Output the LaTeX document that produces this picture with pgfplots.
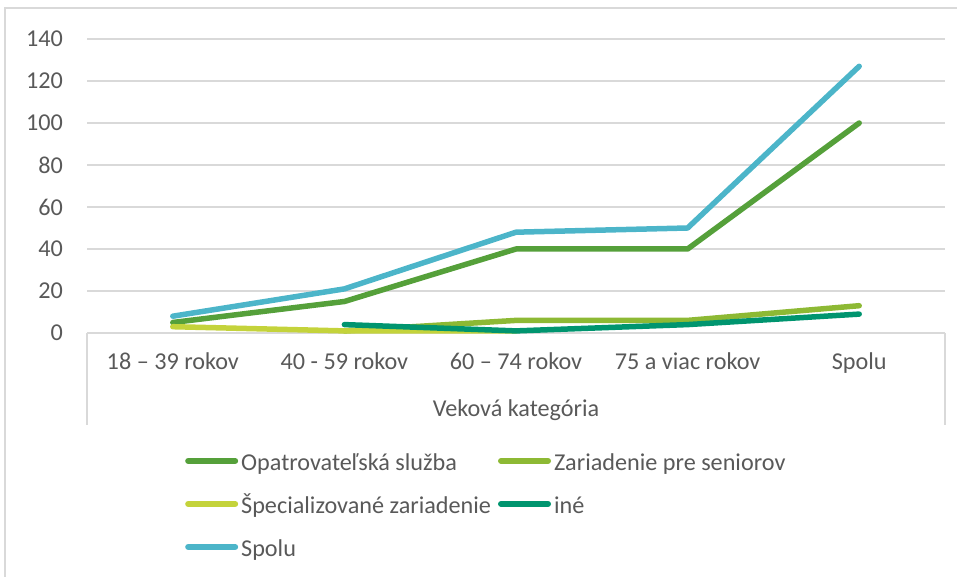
\documentclass[border=0pt]{standalone}
\usepackage{pgfplots}
\pgfplotsset{compat=1.18}
\usepackage{fontspec}
\setmainfont{Carlito}
\definecolor{cOpa}{HTML}{55A03A}
\definecolor{cZar}{HTML}{8DB934}
\definecolor{cSpe}{HTML}{C4D33B}
\definecolor{cIne}{HTML}{00956F}
\definecolor{cSpo}{HTML}{4CB5C9}
\definecolor{cTxt}{HTML}{595959}
\definecolor{cGrid}{HTML}{D9D9D9}
\begin{document}
\begin{tikzpicture}[x=1pt,y=1pt]
\useasboundingbox (0,0) rectangle (957,577);
\draw[cGrid, line width=1.2pt] (5,-5) -- (5,569) -- (962,569);
\draw[cGrid, line width=1.2pt] (87,244) -- (87,152);
\draw[cGrid, line width=1.2pt] (945,244) -- (945,152);
\begin{axis}[
  at={(87pt,244pt)}, anchor=south west,
  scale only axis, width=858pt, height=294pt,
  xmin=-0.5, xmax=4.5, ymin=0, ymax=140,
  xtick={0,1,2,3,4},
  xticklabels={18 – 39 rokov, 40 - 59 rokov, 60 – 74 rokov, 75 a viac rokov, Spolu},
  ytick={0,20,...,140},
  axis line style={draw=none},
  major tick length=0pt,
  ymajorgrids, grid style={cGrid, line width=1.2pt},
  /pgf/number format/assume math mode=true,
  tick label style={font=\fontsize{24.2}{28}\selectfont, text=cTxt, inner sep=0pt},
  yticklabel style={anchor=east, xshift=-24pt},
  xticklabel style={anchor=base, yshift=-37pt},
  xlabel={Veková kategória},
  xlabel style={font=\fontsize{24.2}{28}\selectfont, text=cTxt, inner sep=0pt, at={(axis description cs:0.5,0)}, anchor=base, yshift=-84pt},
  legend columns=2,
  legend cell align=left,
  legend style={at={(axis description cs:0.1142,-0.414)}, anchor=north west, draw=none, fill=none,
    font=\fontsize{24.2}{28}\selectfont, text=cTxt, inner sep=0pt,
    nodes={inner sep=0pt, text height=16pt, text depth=6pt},
    row sep=21pt,
    /tikz/every odd column/.append style={column sep=3pt},
    /tikz/every even column/.append style={column sep=7pt}},
  legend image code/.code={\draw[#1, line width=6pt, line cap=round] (3pt,5pt) -- (50pt,5pt);},
  every axis plot/.append style={line width=5.5pt, line cap=round, line join=round, mark=none},
  clip=false,
]
\addplot[cOpa] coordinates {(0,5)(1,15)(2,40)(3,40)(4,100)};
\addlegendentry{Opatrovateľská služba}
\addplot[cZar] coordinates {(1,1)(2,6)(3,6)(4,13)};
\addlegendentry{Zariadenie pre seniorov}
\addplot[cSpe] coordinates {(0,3)(1,1)(2,1)};
\addlegendentry{Špecializované zariadenie}
\addplot[cIne] coordinates {(1,4)(2,1)(3,4)(4,9)};
\addlegendentry{iné}
\addplot[cSpo] coordinates {(0,8)(1,21)(2,48)(3,50)(4,127)};
\addlegendentry{Spolu}
\end{axis}
\end{tikzpicture}
\end{document}
